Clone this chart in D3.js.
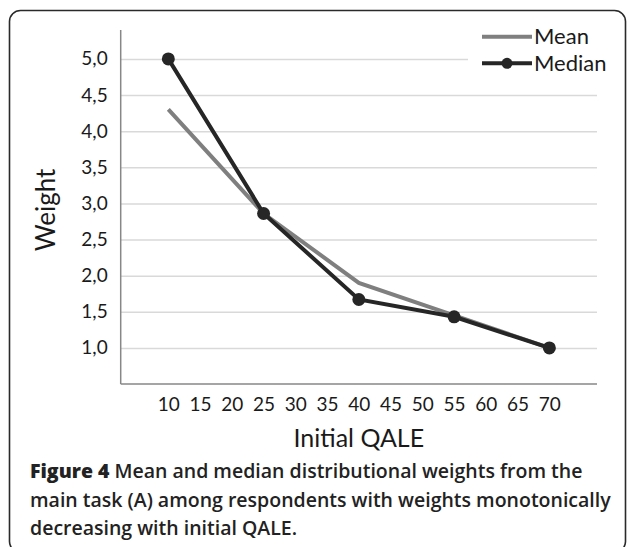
<!DOCTYPE html>
<html>
<head>
<meta charset="utf-8">
<script src="https://cdn.jsdelivr.net/npm/d3@7"></script>
<style>
  body { margin: 0; background: #fff; }
  svg { display: block; }
  .axis path { stroke: #878787; stroke-width: 1.5; }
  .axis text { font-family: Lato, sans-serif; font-size: 19px; fill: #1a1a1a; }
  .grid line { stroke: #d9d9d9; stroke-width: 1.5; }
  .grid path { display: none; }
</style>
</head>
<body>
<div id="chart"></div>
<script>
// values
const qale = [10, 25, 40, 55, 70];
const meanWeight = [4.30, 2.86, 1.90, 1.45, 1.00];
const medianWeight = [5.00, 2.86, 1.67, 1.43, 1.00];
const xTicks = [10, 15, 20, 25, 30, 35, 40, 45, 50, 55, 60, 65, 70];
const yTicks = [1.0, 1.5, 2.0, 2.5, 3.0, 3.5, 4.0, 4.5, 5.0];
const seriesNames = ['Mean', 'Median'];
const captionLines = [
    ['Figure 4', ' Mean and median distributional weights from the'],
    ['', 'main task (A) among respondents with weights monotonically'],
    ['', 'decreasing with initial QALE.']
];

const W = 629, H = 547;
const plot = {left: 120.7, right: 597, top: 30, bottom: 384};

const svg = d3.select('#chart').append('svg')
    .attr('width', W)
    .attr('height', H);

// frame round figure + caption
svg.append('rect')
    .attr('x', 9.5).attr('y', 10.5)
    .attr('width', 616).attr('height', 542)
    .attr('rx', 11)
    .attr('fill', 'none')
    .attr('stroke', '#2a2a2a')
    .attr('stroke-width', 1.6);

const x = d3.scaleLinear()
    .domain([2.5, 77.5])
    .range([plot.left, plot.right]);

const y = d3.scaleLinear()
    .domain([0.5, 5.4])
    .range([plot.bottom, plot.top]);

const fmt = d => d3.format('.1f')(d).replace('.', ',');

// gridlines
svg.append('g')
    .attr('class', 'grid')
    .attr('transform', `translate(${plot.left},0)`)
    .call(d3.axisLeft(y)
        .tickValues(yTicks)
        .tickSize(-(plot.right - plot.left))
        .tickFormat(''));

// legend sits on a white patch over the top gridline
svg.append('rect')
    .attr('x', 468).attr('y', 22)
    .attr('width', 150).attr('height', 56)
    .attr('fill', '#fff');

// axes
svg.append('g')
    .attr('class', 'axis')
    .attr('transform', `translate(${plot.left},0)`)
    .call(d3.axisLeft(y)
        .tickValues(yTicks)
        .tickSize(0)
        .tickPadding(13)
        .tickFormat(fmt))
    .call(g => g.select('.domain').attr('d', `M0,${plot.top}V${plot.bottom}`));

svg.append('g')
    .attr('class', 'axis')
    .attr('transform', `translate(0,${plot.bottom})`)
    .call(d3.axisBottom(x)
        .tickValues(xTicks)
        .tickSize(0)
        .tickPadding(14)
        .tickFormat(d3.format('d')))
    .call(g => g.select('.domain').attr('d', `M${plot.left},0H${plot.right}`));

// axis titles
svg.append('text')
    .attr('transform', `translate(55,210) rotate(-90)`)
    .attr('text-anchor', 'middle')
    .style('font-family', 'Lato, sans-serif')
    .style('font-size', '26px')
    .attr('fill', '#1a1a1a')
    .text('Weight');

svg.append('text')
    .attr('x', (plot.left + plot.right) / 2)
    .attr('y', 447)
    .attr('text-anchor', 'middle')
    .style('font-family', 'Lato, sans-serif')
    .style('font-size', '25px')
    .attr('fill', '#1a1a1a')
    .text('Initial QALE');

// lines
const line = d3.line()
    .x(d => x(d[0]))
    .y(d => y(d[1]));

svg.append('path')
    .datum(d3.zip(qale, meanWeight))
    .attr('d', line)
    .attr('fill', 'none')
    .attr('stroke', '#7f7f7f')
    .attr('stroke-width', 4);

svg.append('path')
    .datum(d3.zip(qale, medianWeight))
    .attr('d', line)
    .attr('fill', 'none')
    .attr('stroke', '#262626')
    .attr('stroke-width', 4);

svg.selectAll('.dot')
    .data(d3.zip(qale, medianWeight))
    .enter()
    .append('circle')
    .attr('class', 'dot')
    .attr('cx', d => x(d[0]))
    .attr('cy', d => y(d[1]))
    .attr('r', 6.5)
    .attr('fill', '#262626');

// legend
const legend = svg.append('g');
const legendY = [36.7, 63.3];
seriesNames.forEach((name, i) => {
    const colour = i === 0 ? '#7f7f7f' : '#262626';
    legend.append('line')
        .attr('x1', 482).attr('x2', 532)
        .attr('y1', legendY[i]).attr('y2', legendY[i])
        .attr('stroke', colour)
        .attr('stroke-width', 4);
    if (i === 1) {
        legend.append('circle')
            .attr('cx', 507).attr('cy', legendY[i])
            .attr('r', 5.5)
            .attr('fill', colour);
    }
    legend.append('text')
        .attr('x', 534)
        .attr('y', legendY[i])
        .attr('dy', '0.35em')
        .style('font-family', 'Lato, sans-serif')
        .style('font-size', '22px')
        .attr('fill', '#1a1a1a')
        .text(name);
});

// caption
const caption = svg.append('text')
    .style('font-family', "'Open Sans', sans-serif")
    .style('font-size', '19.5px')
    .style('font-weight', 600)
    .attr('fill', '#222');

captionLines.forEach((parts, i) => {
    const t = caption.append('tspan')
        .attr('x', 30)
        .attr('y', 478 + i * 28.5);
    if (parts[0]) {
        t.append('tspan').style('font-weight', 800).text(parts[0]);
    }
    t.append('tspan').text(parts[1]);
});
</script>
</body>
</html>
